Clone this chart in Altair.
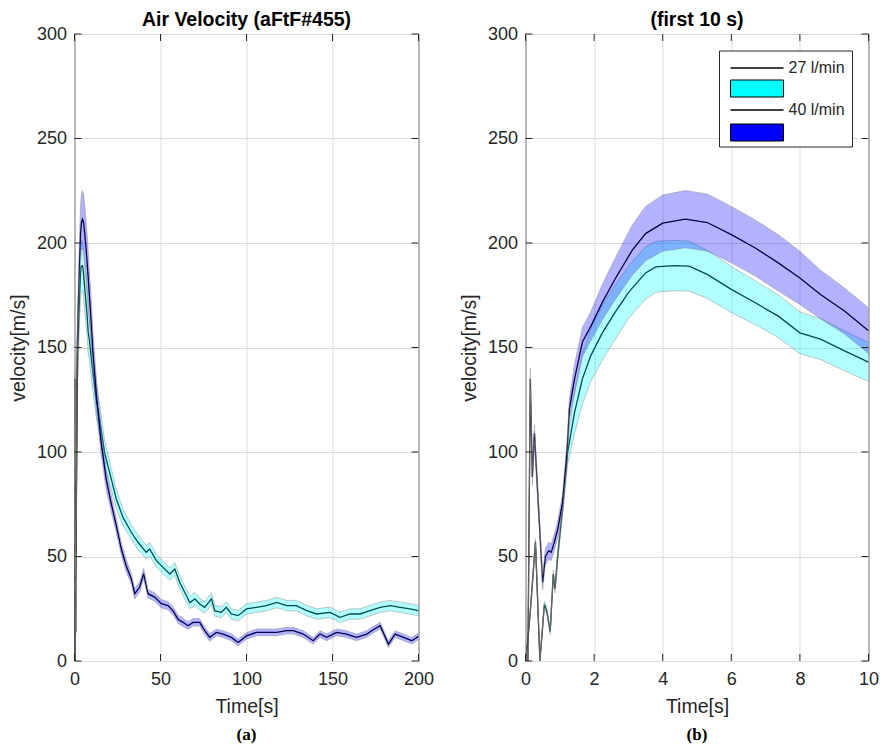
import altair as alt
import pandas as pd

# ---- 27 l/min (cyan) ----
t27 = [0, 0.08, 0.16, 0.29, 0.42, 0.55, 0.62, 0.72, 0.81, 0.86, 0.94, 1.08, 1.23, 1.43, 1.66, 1.9, 2.24, 2.62,
       3.01, 3.5, 3.8, 4.34, 4.77, 5.3, 6.0, 6.7, 7.37, 8.0, 8.6, 9.3, 10.0,
       11.7, 12.6, 14.6, 17.5, 21.4, 24.3, 28.2, 33, 36.9, 41.7, 43.7, 47.6, 51.5, 55.4, 58.3, 61.2, 65, 67, 70,
       72.8, 75.7, 79.6, 81.6, 85.4, 88.3, 91.2, 95.1, 100, 105.8, 111.6, 117.5, 123.3, 129, 135, 140.8, 148.5,
       154.4, 160.2, 166, 171.8, 177.7, 183.5, 189.3, 195.1, 200]
m27 = [0, 12, 28, 57, 0, 27, 24, 14, 41.6, 34.5, 50.4, 72.7, 100, 119, 135, 146, 157, 167,
       176.5, 185.7, 188.6, 189.2, 188.9, 185, 177.8, 171.4, 165, 157, 154, 148.4, 143,
       131, 125, 115.6, 99.7, 87, 77.5, 68.7, 61.6, 56.8, 52, 53.6, 48, 44.8, 41.6, 44, 37.6, 31.3, 28, 29.7,
       27.3, 25.7, 29.7, 24, 23.3, 25.7, 22.5, 21.7, 24.9, 25.7, 26.5, 28, 26.5, 26.5, 24.1, 22.5, 23.3,
       20.9, 22.5, 22.5, 24.1, 25.7, 26.5, 25.7, 24.9, 24.1]
hw27 = [0, 0.5, 1, 1.5, 1, 1.5, 1.5, 1.5, 2, 2, 2.5, 3, 6, 10, 12, 12.5, 13, 13,
        12.5, 12.5, 12.2, 12, 12, 11.5, 11, 10.5, 10.2, 10, 9.8, 9.5, 9.3,
        8.5, 8, 7, 6, 5, 4.5, 4, 3.5, 3.5, 3.2, 3.2, 3, 3, 3, 3, 3, 3, 3, 3,
        2.8, 2.8, 2.8, 2.6, 2.6, 2.6, 2.5, 2.5, 2.5, 2.5, 2.5, 2.5, 2.5, 2.5, 2.5, 2.5, 2.5,
        2.5, 2.5, 2.5, 2.5, 2.5, 2.5, 2.5, 2.5, 2.5]

# ---- 40 l/min (blue) ----
t40 = [0, 0.07, 0.14, 0.2, 0.26, 0.5, 0.58, 0.68, 0.75, 0.84, 0.94, 1.08, 1.21, 1.28, 1.43, 1.66, 1.9, 2.24,
       2.62, 3.11, 3.5, 4.0, 4.66, 5.3, 6.0, 6.7, 7.37, 8.0, 8.6, 9.3, 10.0,
       10.7, 12.6, 15.5, 18.4, 21.4, 24.3, 27.2, 30, 33, 35, 37.9, 40.2, 42.7, 46.6, 50.5, 54.4, 57.3, 60.2,
       63.1, 66, 69, 72.8, 75.7, 78.6, 82.5, 86.4, 91.2, 95.1, 100, 105.8, 111.6, 117.5, 123.3, 127.2, 133,
       138.8, 142.7, 146.6, 152.4, 158.2, 164, 169.9, 172.8, 177.7, 182.5, 186.4, 191.2, 196.1, 200]
m40 = [0, 0, 135, 88, 109, 37.6, 50, 52.8, 52, 56.8, 63, 75.9, 100, 120.6, 135, 152.6, 160, 171.6,
       183, 196.5, 204.5, 209.5, 211.4, 209.8, 204, 197.6, 190.5, 183.3, 175.4, 167.5, 158,
       148, 128.5, 104.6, 87, 75.2, 64.8, 53.7, 45.7, 39.4, 32.2, 35.4, 41.8, 32.2, 30.6, 27.4, 26.5, 24, 20,
       18.5, 16.9, 18.5, 18.5, 14.5, 11.3, 13.7, 12.9, 11.3, 8.9, 12, 13.7, 13.7, 13.7, 14.5, 14.5, 12.9,
       9.7, 12.9, 11.3, 13.7, 12.9, 11.3, 12.9, 14.5, 16.9, 8.1, 12.9, 11.3, 9.7, 11.8]
hw40 = [0, 0, 5, 4, 4, 3.5, 4, 4, 4, 4, 4, 4, 5, 5, 7, 7, 7, 8.5,
        10, 12, 13, 13.5, 13.7, 13.7, 13.5, 13.4, 13.5, 12.7, 11.6, 11, 11,
        10, 8, 6, 5, 4, 3.5, 3, 3, 2.5, 2.5, 2.5, 2.5, 2, 2, 2, 2, 2, 2,
        2, 1.8, 1.8, 1.8, 1.8, 1.8, 1.6, 1.6, 1.6, 1.6, 1.6, 1.6, 1.6, 1.6, 1.6, 1.6, 1.6,
        1.6, 1.6, 1.6, 1.6, 1.6, 1.6, 1.6, 1.6, 1.6, 1.6, 1.6, 1.6, 1.6, 1.6]

y_ticks = [0, 50, 100, 150, 200, 250, 300]
x_ticks_a = [0, 50, 100, 150, 200]
x_ticks_b = [0, 2, 4, 6, 8, 10]
legend_labels = ["27 l/min", "40 l/min"]


def band_frame(t, m, hw):
    return pd.DataFrame({"t": t, "m": m,
                         "lo": [max(0, a - b) for a, b in zip(m, hw)],
                         "hi": [a + b for a, b in zip(m, hw)]})


df27 = band_frame(t27, m27, hw27)
df40 = band_frame(t40, m40, hw40)

H = 627
FONT = "Liberation Sans"
TXT = "#262626"


def panel(xmax, xticks, title, caption, with_legend, W):
    xs = alt.Scale(domain=[0, xmax], nice=False, zero=False)
    ys = alt.Scale(domain=[0, 300], nice=False)
    xaxis = alt.Axis(values=xticks, title="Time[s]", grid=True, ticks=False, domain=False,
                     labelFlush=False, labelPadding=9.5, titlePadding=9, format="d")
    yaxis = alt.Axis(values=y_ticks, title="velocity[m/s]", grid=True, ticks=False, domain=False,
                     labelPadding=8, titlePadding=8, format="d")

    def base(df):
        return alt.Chart(df).transform_filter(alt.datum.t <= xmax)

    line27 = base(df27).mark_line(color="black", strokeWidth=1.3, clip=True).encode(
        x=alt.X("t:Q", scale=xs, axis=xaxis), y=alt.Y("m:Q", scale=ys, axis=yaxis))
    area27 = base(df27).mark_area(fill="#00ffff", fillOpacity=0.3, stroke="#8c8c8c",
                                  strokeWidth=0.7, strokeOpacity=0.7, clip=True).encode(
        x=alt.X("t:Q", scale=xs, axis=xaxis), y=alt.Y("lo:Q", scale=ys, axis=yaxis), y2="hi:Q")
    line40 = base(df40).mark_line(color="black", strokeWidth=1.3, clip=True).encode(
        x=alt.X("t:Q", scale=xs, axis=xaxis), y=alt.Y("m:Q", scale=ys, axis=yaxis))
    area40 = base(df40).mark_area(fill="#0000ff", fillOpacity=0.3, stroke="#8c8c8c",
                                  strokeWidth=0.7, strokeOpacity=0.7, clip=True).encode(
        x=alt.X("t:Q", scale=xs, axis=xaxis), y=alt.Y("lo:Q", scale=ys, axis=yaxis), y2="hi:Q")

    xt = pd.DataFrame({"v": xticks})
    yt = pd.DataFrame({"v": y_ticks})
    tick_b = alt.Chart(xt).mark_rule(color=TXT).encode(
        x=alt.X("v:Q", scale=xs, axis=xaxis), y=alt.value(H), y2=alt.value(H - 7))
    tick_t = alt.Chart(xt).mark_rule(color=TXT).encode(
        x=alt.X("v:Q", scale=xs, axis=xaxis), y=alt.value(0), y2=alt.value(7))
    tick_l = alt.Chart(yt).mark_rule(color=TXT).encode(
        y=alt.Y("v:Q", scale=ys, axis=yaxis), x=alt.value(0), x2=alt.value(7))
    tick_r = alt.Chart(yt).mark_rule(color=TXT).encode(
        y=alt.Y("v:Q", scale=ys, axis=yaxis), x=alt.value(W - 7), x2=alt.value(W))

    ttl = alt.Chart(pd.DataFrame({"s": [title]})).mark_text(
        font=FONT, fontSize=19.5, fontWeight="bold", color="black", baseline="middle").encode(
        x=alt.value(W / 2), y=alt.value(-14), text="s:N")
    cap = alt.Chart(pd.DataFrame({"s": [caption]})).mark_text(
        font="Liberation Serif", fontSize=17, fontWeight="bold", color="black", baseline="middle").encode(
        x=alt.value(W / 2), y=alt.value(H + 74), text="s:N")

    layers = [line27, area27, line40, area40, tick_b, tick_t, tick_l, tick_r, ttl, cap]

    if with_legend:
        one = pd.DataFrame({"s": [""]})
        box = alt.Chart(one).mark_rect(fill="white", stroke=TXT, strokeWidth=1).encode(
            x=alt.value(194), x2=alt.value(327), y=alt.value(17), y2=alt.value(113))
        l1 = alt.Chart(one).mark_rule(color="black", strokeWidth=1.3).encode(
            x=alt.value(205), x2=alt.value(258), y=alt.value(34))
        r1 = alt.Chart(one).mark_rect(fill="#00ffff", stroke="black", strokeWidth=1).encode(
            x=alt.value(205), x2=alt.value(258), y=alt.value(46), y2=alt.value(63))
        l2 = alt.Chart(one).mark_rule(color="black", strokeWidth=1.3).encode(
            x=alt.value(205), x2=alt.value(258), y=alt.value(76))
        r2 = alt.Chart(one).mark_rect(fill="#0000ff", stroke="black", strokeWidth=1).encode(
            x=alt.value(205), x2=alt.value(258), y=alt.value(90), y2=alt.value(107))
        tx1 = alt.Chart(pd.DataFrame({"s": [legend_labels[0]]})).mark_text(
            font=FONT, fontSize=16, color=TXT, align="left", baseline="middle").encode(
            x=alt.value(263), y=alt.value(34), text="s:N")
        tx2 = alt.Chart(pd.DataFrame({"s": [legend_labels[1]]})).mark_text(
            font=FONT, fontSize=16, color=TXT, align="left", baseline="middle").encode(
            x=alt.value(263), y=alt.value(76), text="s:N")
        layers += [box, l1, r1, l2, r2, tx1, tx2]

    return alt.layer(*layers).properties(width=W, height=H)


left = panel(200, x_ticks_a, "Air Velocity (aFtF#455)", "(a)", False, 344)
right = panel(10, x_ticks_b, "(first 10 s)", "(b)", True, 343)

chart = alt.hconcat(left, right, spacing=24).properties(
    padding={"left": 7.5, "top": 9, "right": 0, "bottom": 0}
).configure_view(stroke=TXT, strokeWidth=1).configure_axis(
    labelFont=FONT, labelFontSize=18, labelColor=TXT,
    titleFont=FONT, titleFontSize=19.5, titleFontWeight="normal", titleColor=TXT,
    gridColor="#dcdcdc", gridWidth=1
)

chart.save("out.html", embed_options={"renderer": "svg", "actions": False})
